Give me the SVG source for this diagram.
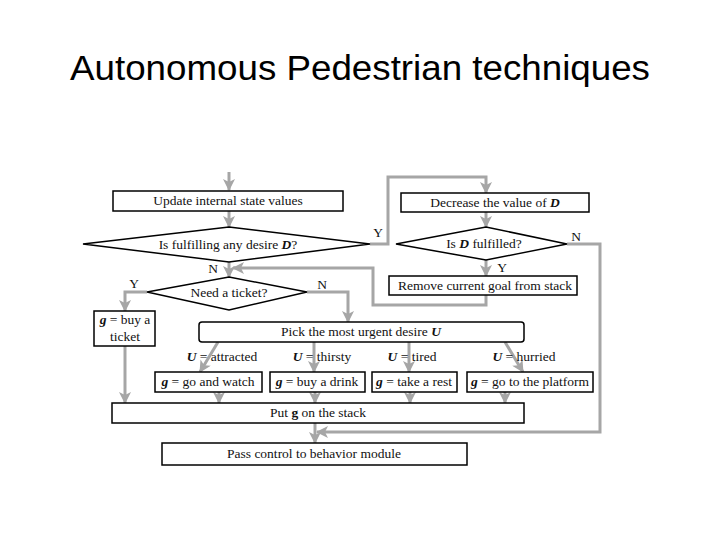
<svg xmlns="http://www.w3.org/2000/svg" width="720" height="540" viewBox="0 0 720 540">
<style>
.box{fill:#fff;stroke:#000;stroke-width:1.5}
.t{font-family:"Liberation Serif",serif;font-size:13.5px;fill:#111;text-anchor:middle}
.b{font-weight:bold;font-style:italic}
.c{fill:none;stroke:#a6a6a6;stroke-width:3;marker-end:url(#ah)}
</style>
<defs>
<marker id="ah" markerUnits="userSpaceOnUse" markerWidth="12" markerHeight="12" viewBox="0 0 12 12" refX="11" refY="6" orient="auto">
<path d="M0,0 L12,6 L0,12 L3,6 z" fill="#a6a6a6"/>
</marker>
</defs>
<rect width="720" height="540" fill="#fff"/>
<text x="360" y="80" font-family="'Liberation Sans',sans-serif" font-size="35" text-anchor="middle" textLength="580" lengthAdjust="spacingAndGlyphs" fill="#000">Autonomous Pedestrian techniques</text>
<g id="connectors">
<path class="c" d="M229,172 V190"/>
<path class="c" d="M229,211 V227"/>
<path class="c" d="M370,244 H388 V177 H486 V193"/>
<path class="c" d="M486,211 V227"/>
<path class="c" d="M567,244 H600 V432 H317"/>
<path class="c" d="M486,260 V276"/>
<path class="c" d="M486,295 V305 H373 V268 H233"/>
<path class="c" d="M229,262 V277"/>
<path class="c" d="M147,292 H125 V311"/>
<path class="c" d="M307,292 H348 V322"/>
<path class="c" d="M218,342 L200,372"/>
<path class="c" d="M314,342 V372"/>
<path class="c" d="M409,342 V372"/>
<path class="c" d="M505,342 L523,372"/>
<path class="c" d="M219,392 V403"/>
<path class="c" d="M315,392 V403"/>
<path class="c" d="M410,392 V403"/>
<path class="c" d="M505,392 V403"/>
<path class="c" d="M125,346 V403"/>
<path class="c" d="M315,423 V443"/>
</g>
<g id="update"><rect class="box" x="113" y="191" width="230" height="20"/><text class="t" x="228" y="205">Update internal state values</text></g>
<g id="desire"><polygon class="box" points="83,244 229,227 370,244 229,262"/><text class="t" x="228" y="249">Is fulfilling any desire <tspan class="b">D</tspan>?</text></g>
<g id="decrease"><rect class="box" x="401" y="193" width="188" height="19"/><text class="t" x="495" y="207">Decrease the value of <tspan class="b">D</tspan></text></g>
<g id="fulfilled"><polygon class="box" points="396,244 486,227 567,244 486,260"/><text class="t" x="484" y="248">Is <tspan class="b">D</tspan> fulfilled?</text></g>
<g id="remove"><rect class="box" x="389" y="276" width="188" height="19"/><text class="t" x="485" y="290">Remove current goal from stack</text></g>
<g id="ticketq"><polygon class="box" points="147,292 229,277 307,292 229,310"/><text class="t" x="229" y="297">Need a ticket?</text></g>
<g id="buyticket"><rect class="box" x="94" y="311" width="61" height="35"/><text class="t" x="125" y="324"><tspan class="b">g</tspan> = buy a</text><text class="t" x="125" y="341">ticket</text></g>
<g id="pick"><rect class="box" x="199" y="322" width="325" height="20" rx="3"/><text class="t" x="361" y="336">Pick the most urgent desire <tspan class="b">U</tspan></text></g>
<g id="watch"><rect class="box" x="155" y="372" width="107" height="20"/><text class="t" x="208" y="386"><tspan class="b">g</tspan> = go and watch</text></g>
<g id="drink"><rect class="box" x="270" y="372" width="95" height="20"/><text class="t" x="317" y="386"><tspan class="b">g</tspan> = buy a drink</text></g>
<g id="rest"><rect class="box" x="372" y="372" width="85" height="20"/><text class="t" x="414" y="386"><tspan class="b">g</tspan> = take a rest</text></g>
<g id="platform"><rect class="box" x="467" y="372" width="126" height="20"/><text class="t" x="530" y="386"><tspan class="b">g</tspan> = go to the platform</text></g>
<g id="put"><rect class="box" x="112" y="403" width="412" height="20"/><text class="t" x="318" y="417">Put <tspan font-weight="bold">g</tspan> on the stack</text></g>
<g id="pass"><rect class="box" x="162" y="443" width="305" height="22"/><text class="t" x="314" y="458">Pass control to behavior module</text></g>
<g id="labels">
<text class="t" x="222" y="361"><tspan class="b">U</tspan> = attracted</text>
<text class="t" x="322" y="361"><tspan class="b">U</tspan> = thirsty</text>
<text class="t" x="412" y="361"><tspan class="b">U</tspan> = tired</text>
<text class="t" x="524" y="361"><tspan class="b">U</tspan> = hurried</text>
<text class="t" x="378" y="237">Y</text>
<text class="t" x="576" y="241">N</text>
<text class="t" x="502" y="272">Y</text>
<text class="t" x="213" y="273">N</text>
<text class="t" x="134" y="288">Y</text>
<text class="t" x="322" y="289">N</text>
</g>
</svg>
